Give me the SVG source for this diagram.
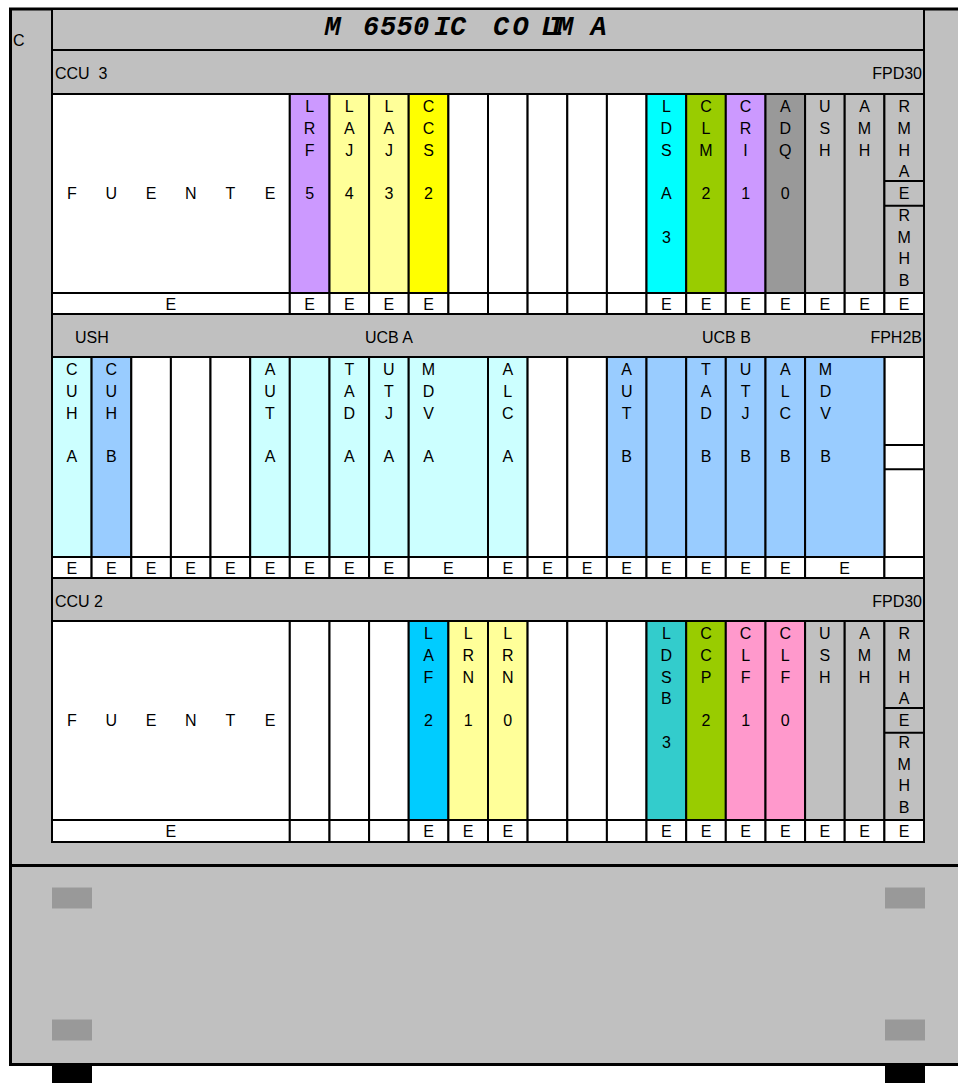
<svg xmlns="http://www.w3.org/2000/svg" width="958" height="1083" viewBox="0 0 958 1083">
<style>
.t{font-family:"Liberation Sans",Arial,sans-serif;font-size:16px;fill:#000}
.m{text-anchor:middle}
.e{text-anchor:end}
.box{stroke:#000;stroke-width:2}
.frame{stroke:#000;stroke-width:3}
.gr{fill:#C0C0C0}
.wh{fill:#FFFFFF}
.pu{fill:#CC99FF}
.ly{fill:#FFFF99}
.ye{fill:#FFFF00}
.cy{fill:#00FFFF}
.gn{fill:#99CC00}
.dg{fill:#999999}
.lc{fill:#CCFFFF}
.lb{fill:#99CCFF}
.sb{fill:#00CCFF}
.tl{fill:#33CCCC}
.pk{fill:#FF99CC}
.title{font-family:"Liberation Mono","Courier New",monospace;font-size:27px;font-weight:bold;font-style:italic;fill:#000}
</style>

<!-- cabinet body -->
<g id="cabinet">
<rect x="10.5" y="9" width="952" height="1055.5" class="gr frame"/>
<line x1="10" y1="865.5" x2="958" y2="865.5" class="frame"/>
<text x="13" y="46" class="t">C</text>
<rect x="52" y="887.5" width="40" height="21" class="dg"/>
<rect x="885" y="887.5" width="40" height="21" class="dg"/>
<rect x="52" y="1019.5" width="40" height="21" class="dg"/>
<rect x="885" y="1019.5" width="40" height="21" class="dg"/>
<rect x="52" y="1066" width="40" height="17" fill="#000"/>
<rect x="885" y="1066" width="40" height="17" fill="#000"/>
</g>

<g id="title">
<rect x="52" y="9" width="872" height="41" class="gr box"/>
<text class="title" x="324.4 345 363 380 396.4 413 430 434 450 475 493 512.4 541 548 557 590.4" y="35">M 6550 IC COLIMA</text>
</g>

<!-- ===== TOP SHELF CCU 3 ===== -->
<g id="shelf-ccu3">
<g id="ccu3-header">
<rect x="52" y="50" width="872" height="44" class="gr box"/>
<text x="55" y="79" class="t" style="white-space:pre">CCU  3</text>
<text x="922" y="79" class="t e">FPD30</text>
</g>
<g id="ccu3-fuente">
<rect x="52" y="94" width="237.8" height="199" class="wh box"/>
<text class="t m" y="199.1"><tspan x="71.8">F</tspan><tspan x="111.4">U</tspan><tspan x="151.1">E</tspan><tspan x="190.7">N</tspan><tspan x="230.4">T</tspan><tspan x="270">E</tspan></text>
</g>
<g id="ccu3-lrf5"><rect x="289.8" y="94" width="39.7" height="199" class="pu box"/>
<text class="t m"><tspan x="309.6" y="112.3">L</tspan><tspan x="309.6" y="134">R</tspan><tspan x="309.6" y="155.7">F</tspan><tspan x="309.6" y="199.1">5</tspan></text></g>
<g id="ccu3-laj4"><rect x="329.5" y="94" width="39.6" height="199" class="ly box"/>
<text class="t m"><tspan x="349.3" y="112.3">L</tspan><tspan x="349.3" y="134">A</tspan><tspan x="349.3" y="155.7">J</tspan><tspan x="349.3" y="199.1">4</tspan></text></g>
<g id="ccu3-laj3"><rect x="369.1" y="94" width="39.6" height="199" class="ly box"/>
<text class="t m"><tspan x="388.9" y="112.3">L</tspan><tspan x="388.9" y="134">A</tspan><tspan x="388.9" y="155.7">J</tspan><tspan x="388.9" y="199.1">3</tspan></text></g>
<g id="ccu3-ccs2"><rect x="408.7" y="94" width="39.7" height="199" class="ye box"/>
<text class="t m"><tspan x="428.5" y="112.3">C</tspan><tspan x="428.5" y="134">C</tspan><tspan x="428.5" y="155.7">S</tspan><tspan x="428.5" y="199.1">2</tspan></text></g>
<g id="ccu3-s10"><rect x="448.4" y="94" width="39.6" height="199" class="wh box"/></g>
<g id="ccu3-s11"><rect x="488" y="94" width="39.6" height="199" class="wh box"/></g>
<g id="ccu3-s12"><rect x="527.6" y="94" width="39.7" height="199" class="wh box"/></g>
<g id="ccu3-s13"><rect x="567.3" y="94" width="39.6" height="199" class="wh box"/></g>
<g id="ccu3-s14"><rect x="606.9" y="94" width="39.6" height="199" class="wh box"/></g>
<g id="ccu3-ldsa3"><rect x="646.5" y="94" width="39.7" height="199" class="cy box"/>
<text class="t m"><tspan x="666.4" y="112.3">L</tspan><tspan x="666.4" y="134">D</tspan><tspan x="666.4" y="155.7">S</tspan><tspan x="666.4" y="199.1">A</tspan><tspan x="666.4" y="242.5">3</tspan></text></g>
<g id="ccu3-clm2"><rect x="686.2" y="94" width="39.6" height="199" class="gn box"/>
<text class="t m"><tspan x="706" y="112.3">C</tspan><tspan x="706" y="134">L</tspan><tspan x="706" y="155.7">M</tspan><tspan x="706" y="199.1">2</tspan></text></g>
<g id="ccu3-cri1"><rect x="725.8" y="94" width="39.7" height="199" class="pu box"/>
<text class="t m"><tspan x="745.6" y="112.3">C</tspan><tspan x="745.6" y="134">R</tspan><tspan x="745.6" y="155.7">I</tspan><tspan x="745.6" y="199.1">1</tspan></text></g>
<g id="ccu3-adq0"><rect x="765.5" y="94" width="39.6" height="199" class="dg box"/>
<text class="t m"><tspan x="785.3" y="112.3">A</tspan><tspan x="785.3" y="134">D</tspan><tspan x="785.3" y="155.7">Q</tspan><tspan x="785.3" y="199.1">0</tspan></text></g>
<g id="ccu3-ush"><rect x="805.1" y="94" width="39.6" height="199" class="gr box"/>
<text class="t m"><tspan x="824.9" y="112.3">U</tspan><tspan x="824.9" y="134">S</tspan><tspan x="824.9" y="155.7">H</tspan></text></g>
<g id="ccu3-amh"><rect x="844.7" y="94" width="39.7" height="199" class="gr box"/>
<text class="t m"><tspan x="864.5" y="112.3">A</tspan><tspan x="864.5" y="134">M</tspan><tspan x="864.5" y="155.7">H</tspan></text></g>
<g id="ccu3-rmh"><rect x="884.4" y="94" width="39.6" height="199" class="gr box"/>
<line x1="884.4" y1="181" x2="924" y2="181" class="box"/>
<line x1="884.4" y1="205.7" x2="924" y2="205.7" class="box"/>
<text class="t m"><tspan x="904.2" y="112.3">R</tspan><tspan x="904.2" y="134">M</tspan><tspan x="904.2" y="155.7">H</tspan><tspan x="904.2" y="177.4">A</tspan><tspan x="904.2" y="199.1">E</tspan><tspan x="904.2" y="220.8">R</tspan><tspan x="904.2" y="242.5">M</tspan><tspan x="904.2" y="264.2">H</tspan><tspan x="904.2" y="285.9">B</tspan></text></g>
<g id="ccu3-erow">
<rect x="52" y="293" width="237.8" height="21" class="wh box"/>
<rect x="289.8" y="293" width="39.7" height="21" class="wh box"/>
<rect x="329.5" y="293" width="39.6" height="21" class="wh box"/>
<rect x="369.1" y="293" width="39.6" height="21" class="wh box"/>
<rect x="408.7" y="293" width="39.7" height="21" class="wh box"/>
<rect x="448.4" y="293" width="39.6" height="21" class="wh box"/>
<rect x="488" y="293" width="39.6" height="21" class="wh box"/>
<rect x="527.6" y="293" width="39.7" height="21" class="wh box"/>
<rect x="567.3" y="293" width="39.6" height="21" class="wh box"/>
<rect x="606.9" y="293" width="39.6" height="21" class="wh box"/>
<rect x="646.5" y="293" width="39.7" height="21" class="wh box"/>
<rect x="686.2" y="293" width="39.6" height="21" class="wh box"/>
<rect x="725.8" y="293" width="39.7" height="21" class="wh box"/>
<rect x="765.5" y="293" width="39.6" height="21" class="wh box"/>
<rect x="805.1" y="293" width="39.6" height="21" class="wh box"/>
<rect x="844.7" y="293" width="39.7" height="21" class="wh box"/>
<rect x="884.4" y="293" width="39.6" height="21" class="wh box"/>
<text class="t m" y="309.5"><tspan x="170.9">E</tspan><tspan x="309.6">E</tspan><tspan x="349.3">E</tspan><tspan x="388.9">E</tspan><tspan x="428.5">E</tspan><tspan x="666.4">E</tspan><tspan x="706">E</tspan><tspan x="745.6">E</tspan><tspan x="785.3">E</tspan><tspan x="824.9">E</tspan><tspan x="864.5">E</tspan><tspan x="904.2">E</tspan></text>
</g>
</g>

<!-- ===== MIDDLE SHELF FPH2B ===== -->
<g id="shelf-fph2b">
<g id="fph2b-header">
<rect x="52" y="314" width="872" height="43" class="gr box"/>
<text x="75" y="342.5" class="t">USH</text>
<text x="365" y="342.5" class="t">UCB A</text>
<text x="702" y="342.5" class="t">UCB B</text>
<text x="922" y="342.5" class="t e">FPH2B</text>
</g>
<g id="fph2b-cuha"><rect x="52" y="357" width="39.6" height="200" class="lc box"/>
<text class="t m"><tspan x="71.8" y="375.3">C</tspan><tspan x="71.8" y="397">U</tspan><tspan x="71.8" y="418.7">H</tspan><tspan x="71.8" y="462.1">A</tspan></text></g>
<g id="fph2b-cuhb"><rect x="91.6" y="357" width="39.7" height="200" class="lb box"/>
<text class="t m"><tspan x="111.4" y="375.3">C</tspan><tspan x="111.4" y="397">U</tspan><tspan x="111.4" y="418.7">H</tspan><tspan x="111.4" y="462.1">B</tspan></text></g>
<g id="fph2b-s2"><rect x="131.3" y="357" width="39.6" height="200" class="wh box"/></g>
<g id="fph2b-s3"><rect x="170.9" y="357" width="39.6" height="200" class="wh box"/></g>
<g id="fph2b-s4"><rect x="210.5" y="357" width="39.7" height="200" class="wh box"/></g>
<g id="fph2b-auta"><rect x="250.2" y="357" width="39.6" height="200" class="lc box"/>
<text class="t m"><tspan x="270" y="375.3">A</tspan><tspan x="270" y="397">U</tspan><tspan x="270" y="418.7">T</tspan><tspan x="270" y="462.1">A</tspan></text></g>
<g id="fph2b-s6"><rect x="289.8" y="357" width="39.7" height="200" class="lc box"/></g>
<g id="fph2b-tada"><rect x="329.5" y="357" width="39.6" height="200" class="lc box"/>
<text class="t m"><tspan x="349.3" y="375.3">T</tspan><tspan x="349.3" y="397">A</tspan><tspan x="349.3" y="418.7">D</tspan><tspan x="349.3" y="462.1">A</tspan></text></g>
<g id="fph2b-utja"><rect x="369.1" y="357" width="39.6" height="200" class="lc box"/>
<text class="t m"><tspan x="388.9" y="375.3">U</tspan><tspan x="388.9" y="397">T</tspan><tspan x="388.9" y="418.7">J</tspan><tspan x="388.9" y="462.1">A</tspan></text></g>
<g id="fph2b-mdva"><rect x="408.7" y="357" width="79.3" height="200" class="lc box"/>
<text class="t m"><tspan x="428.5" y="375.3">M</tspan><tspan x="428.5" y="397">D</tspan><tspan x="428.5" y="418.7">V</tspan><tspan x="428.5" y="462.1">A</tspan></text></g>
<g id="fph2b-alca"><rect x="488" y="357" width="39.6" height="200" class="lc box"/>
<text class="t m"><tspan x="507.8" y="375.3">A</tspan><tspan x="507.8" y="397">L</tspan><tspan x="507.8" y="418.7">C</tspan><tspan x="507.8" y="462.1">A</tspan></text></g>
<g id="fph2b-s12"><rect x="527.6" y="357" width="39.7" height="200" class="wh box"/></g>
<g id="fph2b-s13"><rect x="567.3" y="357" width="39.6" height="200" class="wh box"/></g>
<g id="fph2b-autb"><rect x="606.9" y="357" width="39.6" height="200" class="lb box"/>
<text class="t m"><tspan x="626.7" y="375.3">A</tspan><tspan x="626.7" y="397">U</tspan><tspan x="626.7" y="418.7">T</tspan><tspan x="626.7" y="462.1">B</tspan></text></g>
<g id="fph2b-s15"><rect x="646.5" y="357" width="39.7" height="200" class="lb box"/></g>
<g id="fph2b-tadb"><rect x="686.2" y="357" width="39.6" height="200" class="lb box"/>
<text class="t m"><tspan x="706" y="375.3">T</tspan><tspan x="706" y="397">A</tspan><tspan x="706" y="418.7">D</tspan><tspan x="706" y="462.1">B</tspan></text></g>
<g id="fph2b-utjb"><rect x="725.8" y="357" width="39.7" height="200" class="lb box"/>
<text class="t m"><tspan x="745.6" y="375.3">U</tspan><tspan x="745.6" y="397">T</tspan><tspan x="745.6" y="418.7">J</tspan><tspan x="745.6" y="462.1">B</tspan></text></g>
<g id="fph2b-alcb"><rect x="765.5" y="357" width="39.6" height="200" class="lb box"/>
<text class="t m"><tspan x="785.3" y="375.3">A</tspan><tspan x="785.3" y="397">L</tspan><tspan x="785.3" y="418.7">C</tspan><tspan x="785.3" y="462.1">B</tspan></text></g>
<g id="fph2b-s21"><rect x="884.4" y="357" width="39.6" height="200" class="wh box"/>
<line x1="884.4" y1="445" x2="924" y2="445" class="box"/>
<line x1="884.4" y1="469.3" x2="924" y2="469.3" class="box"/></g>
<g id="fph2b-mdvb"><rect x="805.1" y="357" width="79.3" height="200" class="lb" stroke="#000" stroke-width="2"/>
<text class="t m"><tspan x="825.5" y="375.3">M</tspan><tspan x="825.5" y="397">D</tspan><tspan x="825.5" y="418.7">V</tspan><tspan x="825.5" y="462.1">B</tspan></text></g>
<g id="fph2b-erow">
<rect x="52" y="557" width="39.6" height="21" class="wh box"/>
<rect x="91.6" y="557" width="39.7" height="21" class="wh box"/>
<rect x="131.3" y="557" width="39.6" height="21" class="wh box"/>
<rect x="170.9" y="557" width="39.6" height="21" class="wh box"/>
<rect x="210.5" y="557" width="39.7" height="21" class="wh box"/>
<rect x="250.2" y="557" width="39.6" height="21" class="wh box"/>
<rect x="289.8" y="557" width="39.7" height="21" class="wh box"/>
<rect x="329.5" y="557" width="39.6" height="21" class="wh box"/>
<rect x="369.1" y="557" width="39.6" height="21" class="wh box"/>
<rect x="408.7" y="557" width="79.3" height="21" class="wh box"/>
<rect x="488" y="557" width="39.6" height="21" class="wh box"/>
<rect x="527.6" y="557" width="39.7" height="21" class="wh box"/>
<rect x="567.3" y="557" width="39.6" height="21" class="wh box"/>
<rect x="606.9" y="557" width="39.6" height="21" class="wh box"/>
<rect x="646.5" y="557" width="39.7" height="21" class="wh box"/>
<rect x="686.2" y="557" width="39.6" height="21" class="wh box"/>
<rect x="725.8" y="557" width="39.7" height="21" class="wh box"/>
<rect x="765.5" y="557" width="39.6" height="21" class="wh box"/>
<rect x="805.1" y="557" width="79.3" height="21" class="wh box"/>
<rect x="884.4" y="557" width="39.6" height="21" class="wh box"/>
<text class="t m" y="573.5"><tspan x="71.8">E</tspan><tspan x="111.4">E</tspan><tspan x="151.1">E</tspan><tspan x="190.7">E</tspan><tspan x="230.4">E</tspan><tspan x="270">E</tspan><tspan x="309.6">E</tspan><tspan x="349.3">E</tspan><tspan x="388.9">E</tspan><tspan x="448.4">E</tspan><tspan x="507.8">E</tspan><tspan x="547.5">E</tspan><tspan x="587.1">E</tspan><tspan x="626.7">E</tspan><tspan x="666.4">E</tspan><tspan x="706">E</tspan><tspan x="745.6">E</tspan><tspan x="785.3">E</tspan><tspan x="844.7">E</tspan></text>
</g>
</g>

<!-- ===== BOTTOM SHELF CCU 2 ===== -->
<g id="shelf-ccu2">
<g id="ccu2-header">
<rect x="52" y="578" width="872" height="43" class="gr box"/>
<text x="55" y="607" class="t">CCU 2</text>
<text x="922" y="607" class="t e">FPD30</text>
</g>
<g id="ccu2-fuente">
<rect x="52" y="621" width="237.8" height="199" class="wh box"/>
<text class="t m" y="726.1"><tspan x="71.8">F</tspan><tspan x="111.4">U</tspan><tspan x="151.1">E</tspan><tspan x="190.7">N</tspan><tspan x="230.4">T</tspan><tspan x="270">E</tspan></text>
</g>
<g id="ccu2-s6"><rect x="289.8" y="621" width="39.7" height="199" class="wh box"/></g>
<g id="ccu2-s7"><rect x="329.5" y="621" width="39.6" height="199" class="wh box"/></g>
<g id="ccu2-s8"><rect x="369.1" y="621" width="39.6" height="199" class="wh box"/></g>
<g id="ccu2-laf2"><rect x="408.7" y="621" width="39.7" height="199" class="sb box"/>
<text class="t m"><tspan x="428.5" y="639.3">L</tspan><tspan x="428.5" y="661">A</tspan><tspan x="428.5" y="682.7">F</tspan><tspan x="428.5" y="726.1">2</tspan></text></g>
<g id="ccu2-lrn1"><rect x="448.4" y="621" width="39.6" height="199" class="ly box"/>
<text class="t m"><tspan x="468.2" y="639.3">L</tspan><tspan x="468.2" y="661">R</tspan><tspan x="468.2" y="682.7">N</tspan><tspan x="468.2" y="726.1">1</tspan></text></g>
<g id="ccu2-lrn0"><rect x="488" y="621" width="39.6" height="199" class="ly box"/>
<text class="t m"><tspan x="507.8" y="639.3">L</tspan><tspan x="507.8" y="661">R</tspan><tspan x="507.8" y="682.7">N</tspan><tspan x="507.8" y="726.1">0</tspan></text></g>
<g id="ccu2-s12"><rect x="527.6" y="621" width="39.7" height="199" class="wh box"/></g>
<g id="ccu2-s13"><rect x="567.3" y="621" width="39.6" height="199" class="wh box"/></g>
<g id="ccu2-s14"><rect x="606.9" y="621" width="39.6" height="199" class="wh box"/></g>
<g id="ccu2-ldsb3"><rect x="646.5" y="621" width="39.7" height="199" class="tl box"/>
<text class="t m"><tspan x="666.4" y="639.3">L</tspan><tspan x="666.4" y="661">D</tspan><tspan x="666.4" y="682.7">S</tspan><tspan x="666.4" y="704.4">B</tspan><tspan x="666.4" y="747.8">3</tspan></text></g>
<g id="ccu2-ccp2"><rect x="686.2" y="621" width="39.6" height="199" class="gn box"/>
<text class="t m"><tspan x="706" y="639.3">C</tspan><tspan x="706" y="661">C</tspan><tspan x="706" y="682.7">P</tspan><tspan x="706" y="726.1">2</tspan></text></g>
<g id="ccu2-clf1"><rect x="725.8" y="621" width="39.7" height="199" class="pk box"/>
<text class="t m"><tspan x="745.6" y="639.3">C</tspan><tspan x="745.6" y="661">L</tspan><tspan x="745.6" y="682.7">F</tspan><tspan x="745.6" y="726.1">1</tspan></text></g>
<g id="ccu2-clf0"><rect x="765.5" y="621" width="39.6" height="199" class="pk box"/>
<text class="t m"><tspan x="785.3" y="639.3">C</tspan><tspan x="785.3" y="661">L</tspan><tspan x="785.3" y="682.7">F</tspan><tspan x="785.3" y="726.1">0</tspan></text></g>
<g id="ccu2-ush"><rect x="805.1" y="621" width="39.6" height="199" class="gr box"/>
<text class="t m"><tspan x="824.9" y="639.3">U</tspan><tspan x="824.9" y="661">S</tspan><tspan x="824.9" y="682.7">H</tspan></text></g>
<g id="ccu2-amh"><rect x="844.7" y="621" width="39.7" height="199" class="gr box"/>
<text class="t m"><tspan x="864.5" y="639.3">A</tspan><tspan x="864.5" y="661">M</tspan><tspan x="864.5" y="682.7">H</tspan></text></g>
<g id="ccu2-rmh"><rect x="884.4" y="621" width="39.6" height="199" class="gr box"/>
<line x1="884.4" y1="708" x2="924" y2="708" class="box"/>
<line x1="884.4" y1="732.7" x2="924" y2="732.7" class="box"/>
<text class="t m"><tspan x="904.2" y="639.3">R</tspan><tspan x="904.2" y="661">M</tspan><tspan x="904.2" y="682.7">H</tspan><tspan x="904.2" y="704.4">A</tspan><tspan x="904.2" y="726.1">E</tspan><tspan x="904.2" y="747.8">R</tspan><tspan x="904.2" y="769.5">M</tspan><tspan x="904.2" y="791.2">H</tspan><tspan x="904.2" y="812.9">B</tspan></text></g>
<g id="ccu2-erow">
<rect x="52" y="820" width="237.8" height="22" class="wh box"/>
<rect x="289.8" y="820" width="39.7" height="22" class="wh box"/>
<rect x="329.5" y="820" width="39.6" height="22" class="wh box"/>
<rect x="369.1" y="820" width="39.6" height="22" class="wh box"/>
<rect x="408.7" y="820" width="39.7" height="22" class="wh box"/>
<rect x="448.4" y="820" width="39.6" height="22" class="wh box"/>
<rect x="488" y="820" width="39.6" height="22" class="wh box"/>
<rect x="527.6" y="820" width="39.7" height="22" class="wh box"/>
<rect x="567.3" y="820" width="39.6" height="22" class="wh box"/>
<rect x="606.9" y="820" width="39.6" height="22" class="wh box"/>
<rect x="646.5" y="820" width="39.7" height="22" class="wh box"/>
<rect x="686.2" y="820" width="39.6" height="22" class="wh box"/>
<rect x="725.8" y="820" width="39.7" height="22" class="wh box"/>
<rect x="765.5" y="820" width="39.6" height="22" class="wh box"/>
<rect x="805.1" y="820" width="39.6" height="22" class="wh box"/>
<rect x="844.7" y="820" width="39.7" height="22" class="wh box"/>
<rect x="884.4" y="820" width="39.6" height="22" class="wh box"/>
<text class="t m" y="837"><tspan x="170.9">E</tspan><tspan x="428.5">E</tspan><tspan x="468.2">E</tspan><tspan x="507.8">E</tspan><tspan x="666.4">E</tspan><tspan x="706">E</tspan><tspan x="745.6">E</tspan><tspan x="785.3">E</tspan><tspan x="824.9">E</tspan><tspan x="864.5">E</tspan><tspan x="904.2">E</tspan></text>
</g>
</g>

<g id="connectors"></g>
</svg>
